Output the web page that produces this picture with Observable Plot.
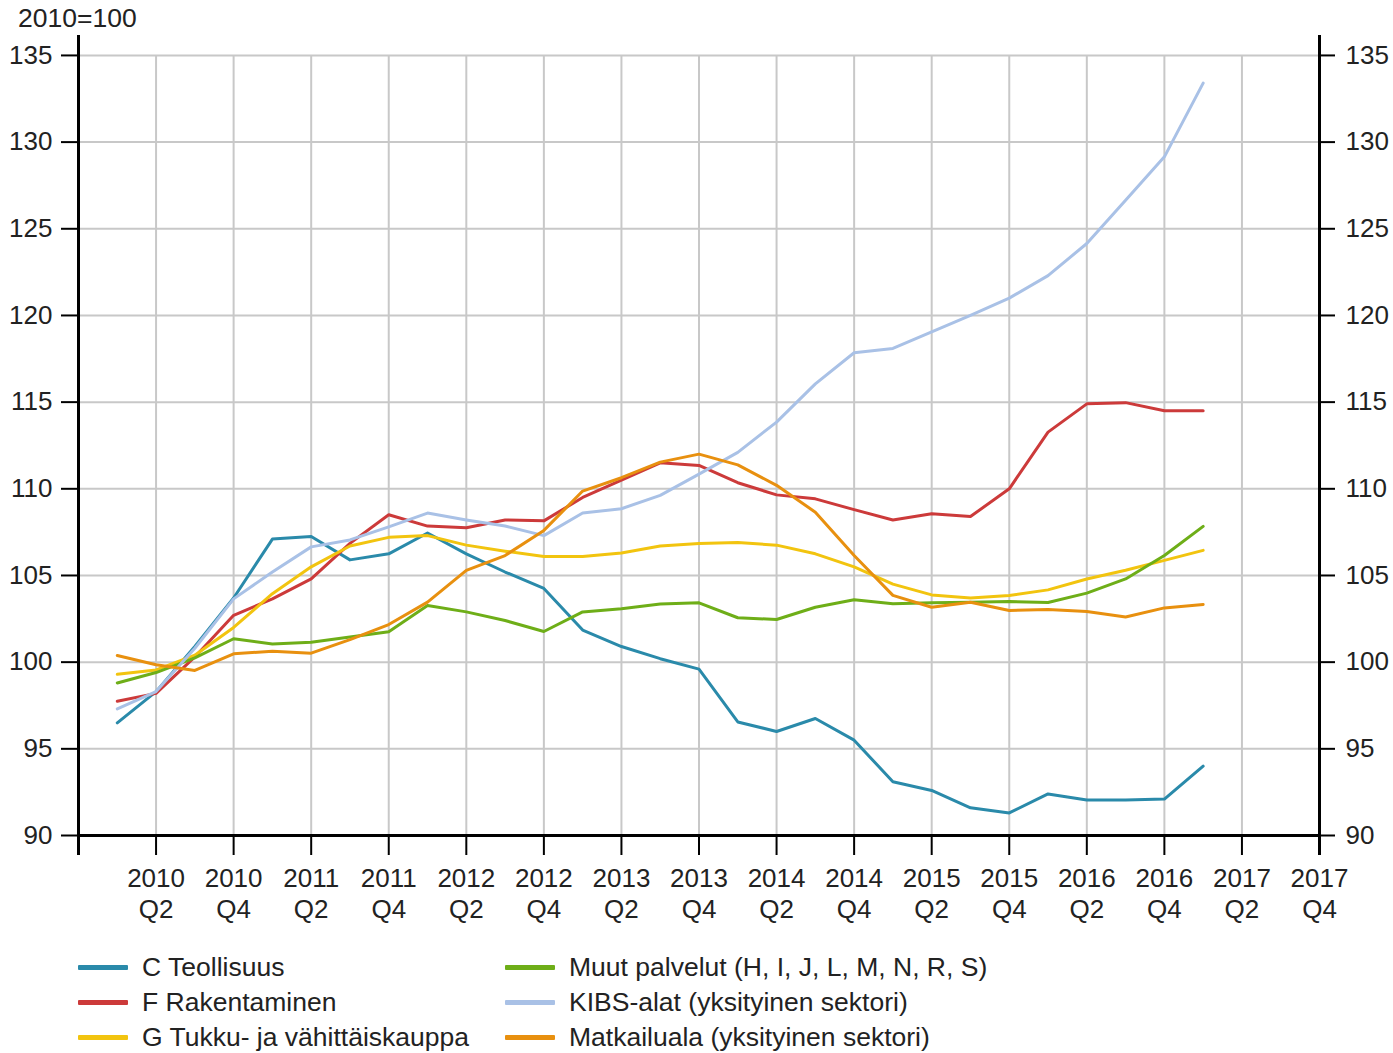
<!DOCTYPE html>
<html>
<head>
<meta charset="utf-8">
<script src="https://cdn.jsdelivr.net/npm/d3@7"></script>
<script src="https://cdn.jsdelivr.net/npm/@observablehq/plot@0.6"></script>
<style>
  body { margin: 0; background: #fff; font-family: "Liberation Sans", Arial, sans-serif; color: #222; }
  #wrap { position: relative; width: 1393px; }
  #unit { position: absolute; left: 18px; top: 2px; font-size: 26.5px; line-height: 32px; }
  #legend { position: relative; height: 113px; font-size: 26.5px; }
  .item { position: absolute; display: flex; align-items: center; height: 35px; white-space: nowrap; }
  .sw { width: 50px; height: 5px; margin-right: 14px; border-radius: 1px; }
</style>
</head>
<body>
<div id="wrap">
  <div id="unit">2010=100</div>
  <div id="chart"></div>
  <div id="legend"></div>
</div>
<script>
const quarters = ["2010Q1","2010Q2","2010Q3","2010Q4","2011Q1","2011Q2","2011Q3","2011Q4",
  "2012Q1","2012Q2","2012Q3","2012Q4","2013Q1","2013Q2","2013Q3","2013Q4",
  "2014Q1","2014Q2","2014Q3","2014Q4","2015Q1","2015Q2","2015Q3","2015Q4",
  "2016Q1","2016Q2","2016Q3","2016Q4","2017Q1"];

const seriesNames = ["C Teollisuus","F Rakentaminen","G Tukku- ja vähittäiskauppa",
  "Muut palvelut (H, I, J, L, M, N, R, S)","KIBS-alat (yksityinen sektori)","Matkailuala (yksityinen sektori)"];
const seriesColors = ["#2a8aaa","#cc3a3a","#f2c40f","#6eae18","#a9c1e6","#e8900f"];

const teollisuus = [96.5, 98.3, 100.9, 103.7, 107.1, 107.25, 105.9, 106.25, 107.45, 106.25, 105.2, 104.25, 101.85, 100.9, 100.2, 99.6, 96.55, 96.0, 96.75, 95.5, 93.1, 92.6, 91.6, 91.3, 92.4, 92.05, 92.05, 92.1, 94.0];
const rakentaminen = [97.75, 98.2, 100.3, 102.7, 103.65, 104.8, 106.85, 108.5, 107.85, 107.75, 108.2, 108.15, 109.5, 110.5, 111.5, 111.35, 110.35, 109.65, 109.42, 108.8, 108.2, 108.56, 108.4, 110.0, 113.27, 114.9, 114.97, 114.5, 114.5];
const tukku = [99.3, 99.55, 100.4, 102.0, 103.95, 105.5, 106.7, 107.2, 107.3, 106.75, 106.4, 106.1, 106.1, 106.3, 106.7, 106.85, 106.9, 106.75, 106.25, 105.5, 104.5, 103.88, 103.7, 103.85, 104.17, 104.8, 105.3, 105.87, 106.45];
const muut = [98.8, 99.4, 100.25, 101.35, 101.05, 101.15, 101.45, 101.75, 103.27, 102.9, 102.4, 101.77, 102.9, 103.08, 103.35, 103.42, 102.56, 102.46, 103.17, 103.6, 103.37, 103.42, 103.46, 103.5, 103.44, 103.98, 104.8, 106.15, 107.83];
const kibs = [97.3, 98.3, 100.8, 103.65, 105.2, 106.65, 107.05, 107.8, 108.6, 108.2, 107.85, 107.3, 108.6, 108.85, 109.62, 110.85, 112.1, 113.85, 116.05, 117.85, 118.1, 119.05, 120.0, 121.0, 122.3, 124.15, 126.65, 129.15, 133.4];
const matkailu = [100.38, 99.85, 99.52, 100.48, 100.63, 100.52, 101.3, 102.17, 103.46, 105.29, 106.15, 107.6, 109.87, 110.64, 111.54, 112.0, 111.38, 110.2, 108.65, 106.15, 103.85, 103.17, 103.46, 102.98, 103.04, 102.92, 102.6, 103.13, 103.33];

const yTicks = [90, 95, 100, 105, 110, 115, 120, 125, 130, 135];
const xTickQuarters = ["2010Q2","2010Q4","2011Q2","2011Q4","2012Q2","2012Q4","2013Q2","2013Q4",
  "2014Q2","2014Q4","2015Q2","2015Q4","2016Q2","2016Q4","2017Q2","2017Q4"];

const qNum = s => +s.slice(0, 4) + (+s.slice(5) - 1) / 4;
const allSeries = [teollisuus, rakentaminen, tukku, muut, kibs, matkailu];
const data = [];
allSeries.forEach((vals, k) => vals.forEach((v, i) => data.push({series: seriesNames[k], x: qNum(quarters[i]), y: v})));

const xMin = qNum("2009Q4"), xMax = qNum("2017Q4");
const yMin = 90, yMax = 136.15, yBelow = 88.85, yTop = 135;
const xTicks = xTickQuarters.map(qNum);
const font = "'Liberation Sans', Arial, sans-serif";

const chart = Plot.plot({
  width: 1393,
  height: 940,
  marginTop: 35,
  marginLeft: 78,
  marginRight: 74,
  marginBottom: 105,
  style: {fontSize: "26px", fontFamily: font, color: "#222", background: "white", overflow: "visible"},
  x: {domain: [xMin, xMax]},
  y: {domain: [yMin, yMax]},
  color: {domain: seriesNames, range: seriesColors},
  marks: [
    Plot.gridY(yTicks.filter(d => d > 90), {stroke: "#c8c8c8", strokeOpacity: 1, strokeWidth: 2}),
    Plot.ruleX(xTicks, {y1: yMin, y2: yTop, stroke: "#c8c8c8", strokeOpacity: 1, strokeWidth: 2}),
    Plot.lineY(data, {x: "x", y: "y", z: "series", stroke: "series", strokeWidth: 3, strokeLinejoin: "round"}),
    Plot.ruleY([90], {stroke: "black", strokeWidth: 3}),
    Plot.ruleX([xMin, xMax], {y1: yBelow, y2: yMax, stroke: "black", strokeWidth: 3}),
    Plot.axisY(yTicks, {anchor: "left", tickSize: 17, tickPadding: 9, stroke: "black", strokeWidth: 2, label: null, fontSize: 26}),
    Plot.axisY(yTicks, {anchor: "right", tickSize: 15, tickPadding: 11, stroke: "black", strokeWidth: 2, label: null, fontSize: 26}),
    Plot.axisX(xTicks, {anchor: "bottom", tickSize: 20, tickPadding: 9, stroke: "black", strokeWidth: 2, label: null, fontSize: 26, lineHeight: 1.2,
      tickFormat: d => `${Math.floor(d + 1e-6)}\nQ${Math.round((d - Math.floor(d + 1e-6)) * 4) + 1}`})
  ]
});
document.getElementById("chart").appendChild(chart);

const legend = document.getElementById("legend");
const pos = [[78, 10], [78, 45], [78, 80], [505, 10], [505, 45], [505, 80]];
seriesNames.forEach((name, k) => {
  const it = document.createElement("div");
  it.className = "item";
  it.style.left = pos[k][0] + "px";
  it.style.top = pos[k][1] + "px";
  const sw = document.createElement("span");
  sw.className = "sw";
  sw.style.background = seriesColors[k];
  const t = document.createElement("span");
  t.textContent = name;
  it.appendChild(sw); it.appendChild(t);
  legend.appendChild(it);
});
</script>
</body>
</html>
